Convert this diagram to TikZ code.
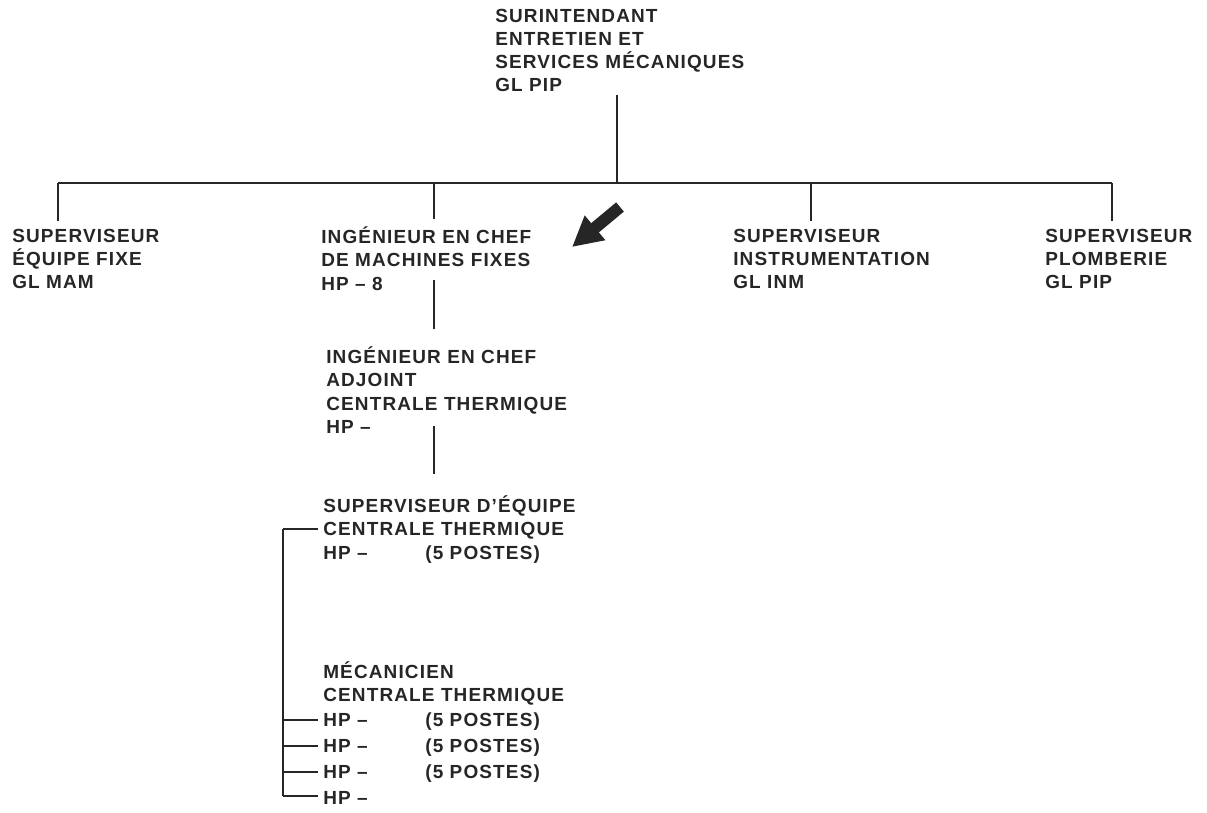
\documentclass[tikz,border=0pt]{standalone}
\usepackage{fontspec}
\setmainfont{Liberation Sans}[LetterSpace=6]
\usetikzlibrary{arrows.meta,calc}

% one row of the "HP" column, with the count set in its own column
\newcommand{\hpline}[1]{\makebox[2.55cm][l]{HP –}#1}

\begin{document}
\begin{tikzpicture}[
    x=0.025cm, y=-0.025cm,
    unit/.style={anchor=north west, inner sep=0pt, align=left, text=black!85,
      font=\bfseries\fontsize{13.5}{16.5}\selectfont,
      execute at begin node={\rule{0pt}{13pt}}},
    post/.style={unit, anchor=base west},
    link/.style={line width=1.4pt, black!85},
    drop/.style={link, shorten >=0.19cm},
    tick/.style={link, shorten >=0.125cm},
    pointer/.style={line width=0.3cm, black!85, -{Triangle[width=0.75cm,length=0.75cm]}}
  ]
  \useasboundingbox (0,0) rectangle (1207,812);

  % Head of the service
  \node[unit] (sur) at (495,8.5) {SURINTENDANT\\ENTRETIEN ET\\SERVICES MÉCANIQUES\\GL PIP};

  % Bus and its branch points
  \coordinate (stem) at (617,183);
  \coordinate (b1) at (58,183);
  \coordinate (b2) at (434,183);
  \coordinate (b3) at (811,183);
  \coordinate (b4) at (1112,183);
  \draw[link, shorten <=0.07cm] (sur.south -| stem) -- (stem);
  \draw[link] (b1) -- (b4);

  % First level
  \node[unit] (sup1) at (12,228.5) {SUPERVISEUR\\ÉQUIPE FIXE\\GL MAM};
  \node[unit] (ing) at (321,226.5) {INGÉNIEUR EN CHEF\\DE MACHINES FIXES\\HP – 8};
  \node[unit] (ins) at (733,228.5) {SUPERVISEUR\\INSTRUMENTATION\\GL INM};
  \node[unit] (plo) at (1045,228.5) {SUPERVISEUR\\PLOMBERIE\\GL PIP};
  \draw[drop] (b1) -- (b1 |- sup1.north);
  \draw[drop] (b2) -- (b2 |- ing.north);
  \draw[drop] (b3) -- (b3 |- ins.north);
  \draw[drop] (b4) -- (b4 |- plo.north);

  % Pointer to the post
  \coordinate (flag) at (620,207);
  \coordinate (aim) at (572,247);
  \draw[pointer] (flag) -- (aim);

  % Chain below the chief engineer
  \node[unit] (adj) at (326,346.5) {INGÉNIEUR EN CHEF\\ADJOINT\\CENTRALE THERMIQUE\\HP –};
  \node[unit] (equ) at (323,495.5) {SUPERVISEUR D’ÉQUIPE\\CENTRALE THERMIQUE\\\hpline{(5 POSTES)}};
  \draw[link, shorten <=-0.25cm, shorten >=0.44cm] (ing.south -| b2) -- (adj.north -| b2);
  \draw[link, shorten <=-0.19cm, shorten >=0.54cm] (adj.south -| b2) -- (equ.north -| b2);

  % Mechanics
  \node[unit] (mec) at (323,661.5) {MÉCANICIEN\\CENTRALE THERMIQUE};
  \node[post] (hp1) at (323,726.8) {\hpline{(5 POSTES)}};
  \node[post] (hp2) at (323,752.8) {\hpline{(5 POSTES)}};
  \node[post] (hp3) at (323,778.8) {\hpline{(5 POSTES)}};
  \node[post] (hp4) at (323,804.8) {HP –};

  % Bracket
  \coordinate (rail) at (283,0);
  \draw[tick] (equ.west -| rail) -- (equ.west);
  \draw[link] (equ.west -| rail) -- (hp4.west -| rail);
  \foreach \i in {1,...,4} {
      \draw[tick] (hp\i.west -| rail) -- (hp\i.west);
    }

\end{tikzpicture}
\end{document}
